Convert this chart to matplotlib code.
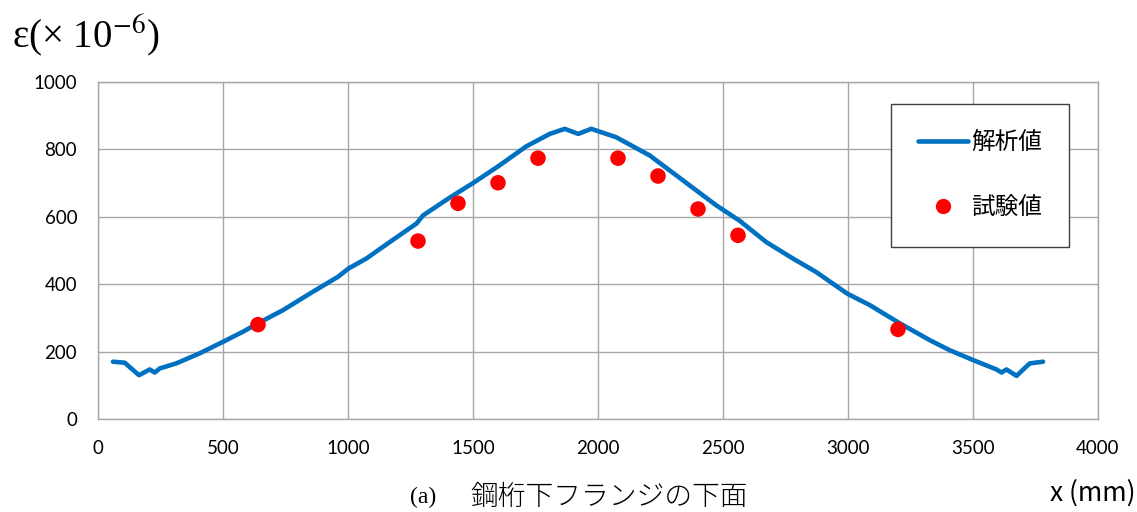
import matplotlib
matplotlib.use("Agg")
import matplotlib.pyplot as plt
from matplotlib.lines import Line2D

# Analysis curve (strain along the girder)
analysis_x = [60, 107, 133, 164, 207, 227, 247, 313, 407, 500, 580, 640, 740, 847,
              960, 1003, 1073, 1167, 1274, 1300, 1407, 1500, 1607, 1713, 1807, 1867,
              1921, 1973, 2073, 2207, 2340, 2473, 2567, 2673, 2780, 2873, 2997, 3087,
              3207, 3327, 3407, 3500, 3594, 3614, 3634, 3674, 3727, 3780]
analysis_y = [170, 167, 150, 130, 147, 138, 150, 165, 195, 229, 259, 284, 323, 372,
              422, 447, 476, 525, 580, 604, 657, 700, 753, 809, 846, 861,
              846, 861, 836, 782, 708, 634, 588, 525, 476, 436, 372, 338,
              284, 234, 204, 175, 147, 138, 147, 128, 165, 170]

# Test measurements
test_x = [640, 1280, 1440, 1600, 1760, 2080, 2240, 2400, 2560, 3200]
test_y = [280, 528, 640, 701, 774, 774, 721, 623, 545, 266]

x_ticks = [0, 500, 1000, 1500, 2000, 2500, 3000, 3500, 4000]
y_ticks = [0, 200, 400, 600, 800, 1000]

plt.rcParams['mathtext.fontset'] = 'stix'

W, H = 1137, 512
fig = plt.figure(figsize=(W / 100, H / 100), dpi=100)
ax = fig.add_axes([98 / W, (H - 419) / H, 1000 / W, 337 / H])

grid_c = '#A6A6A6'
ax.plot(analysis_x, analysis_y, color='#0070C0', lw=3.3, solid_capstyle='round',
        solid_joinstyle='round', zorder=3)
ax.scatter(test_x, test_y, s=125, color='#FF0000', edgecolors='none', zorder=4)

ax.set_xlim(0, 4000)
ax.set_ylim(0, 1000)
ax.set_xticks(x_ticks)
ax.set_yticks(y_ticks)
ax.grid(True, color=grid_c, lw=1.0)
ax.set_axisbelow(True)
for s in ax.spines.values():
    s.set_color(grid_c)
    s.set_linewidth(1.0)
ax.tick_params(length=0, labelsize=13.5, labelcolor='#000000')
ax.tick_params(axis='y', pad=15)
ax.tick_params(axis='x', pad=15)
for lab in ax.get_xticklabels() + ax.get_yticklabels():
    lab.set_family('Lato')

handles = [Line2D([], [], color='#0070C0', lw=3.3, solid_capstyle='round'),
           Line2D([], [], color='#FF0000', marker='o', ls='none', markersize=11,
                  markeredgecolor='none')]
leg = ax.legend(handles, ['解析値', '試験値'], loc='upper left',
                bbox_to_anchor=(891 / W, (H - 104) / H), bbox_transform=fig.transFigure,
                prop={'family': 'Noto Sans CJK JP', 'size': 17},
                fancybox=False, framealpha=1, edgecolor='#404040',
                borderpad=1.15, labelspacing=1.8, handlelength=2.1,
                handletextpad=0.15, borderaxespad=0)
leg.get_frame().set_linewidth(1.0)

fig.text(12 / W, (H - 36) / H, 'ε(× 10$^{-6}$)', fontsize=28,
         family='Liberation Serif', ha='left', va='center')
fig.text(1050 / W, (H - 493) / H, 'x (mm)', fontsize=19, family='Noto Sans CJK JP',
         ha='left', va='center')
fig.text(410 / W, (H - 497) / H, '(a)', fontsize=17, family='Liberation Serif',
         ha='left', va='center')
fig.text(470 / W, (H - 497) / H, '鋼桁下フランジの下面', fontsize=20,
         family='Noto Sans CJK JP', ha='left', va='center', fontweight='light')

fig.savefig('out.png', dpi=100)
